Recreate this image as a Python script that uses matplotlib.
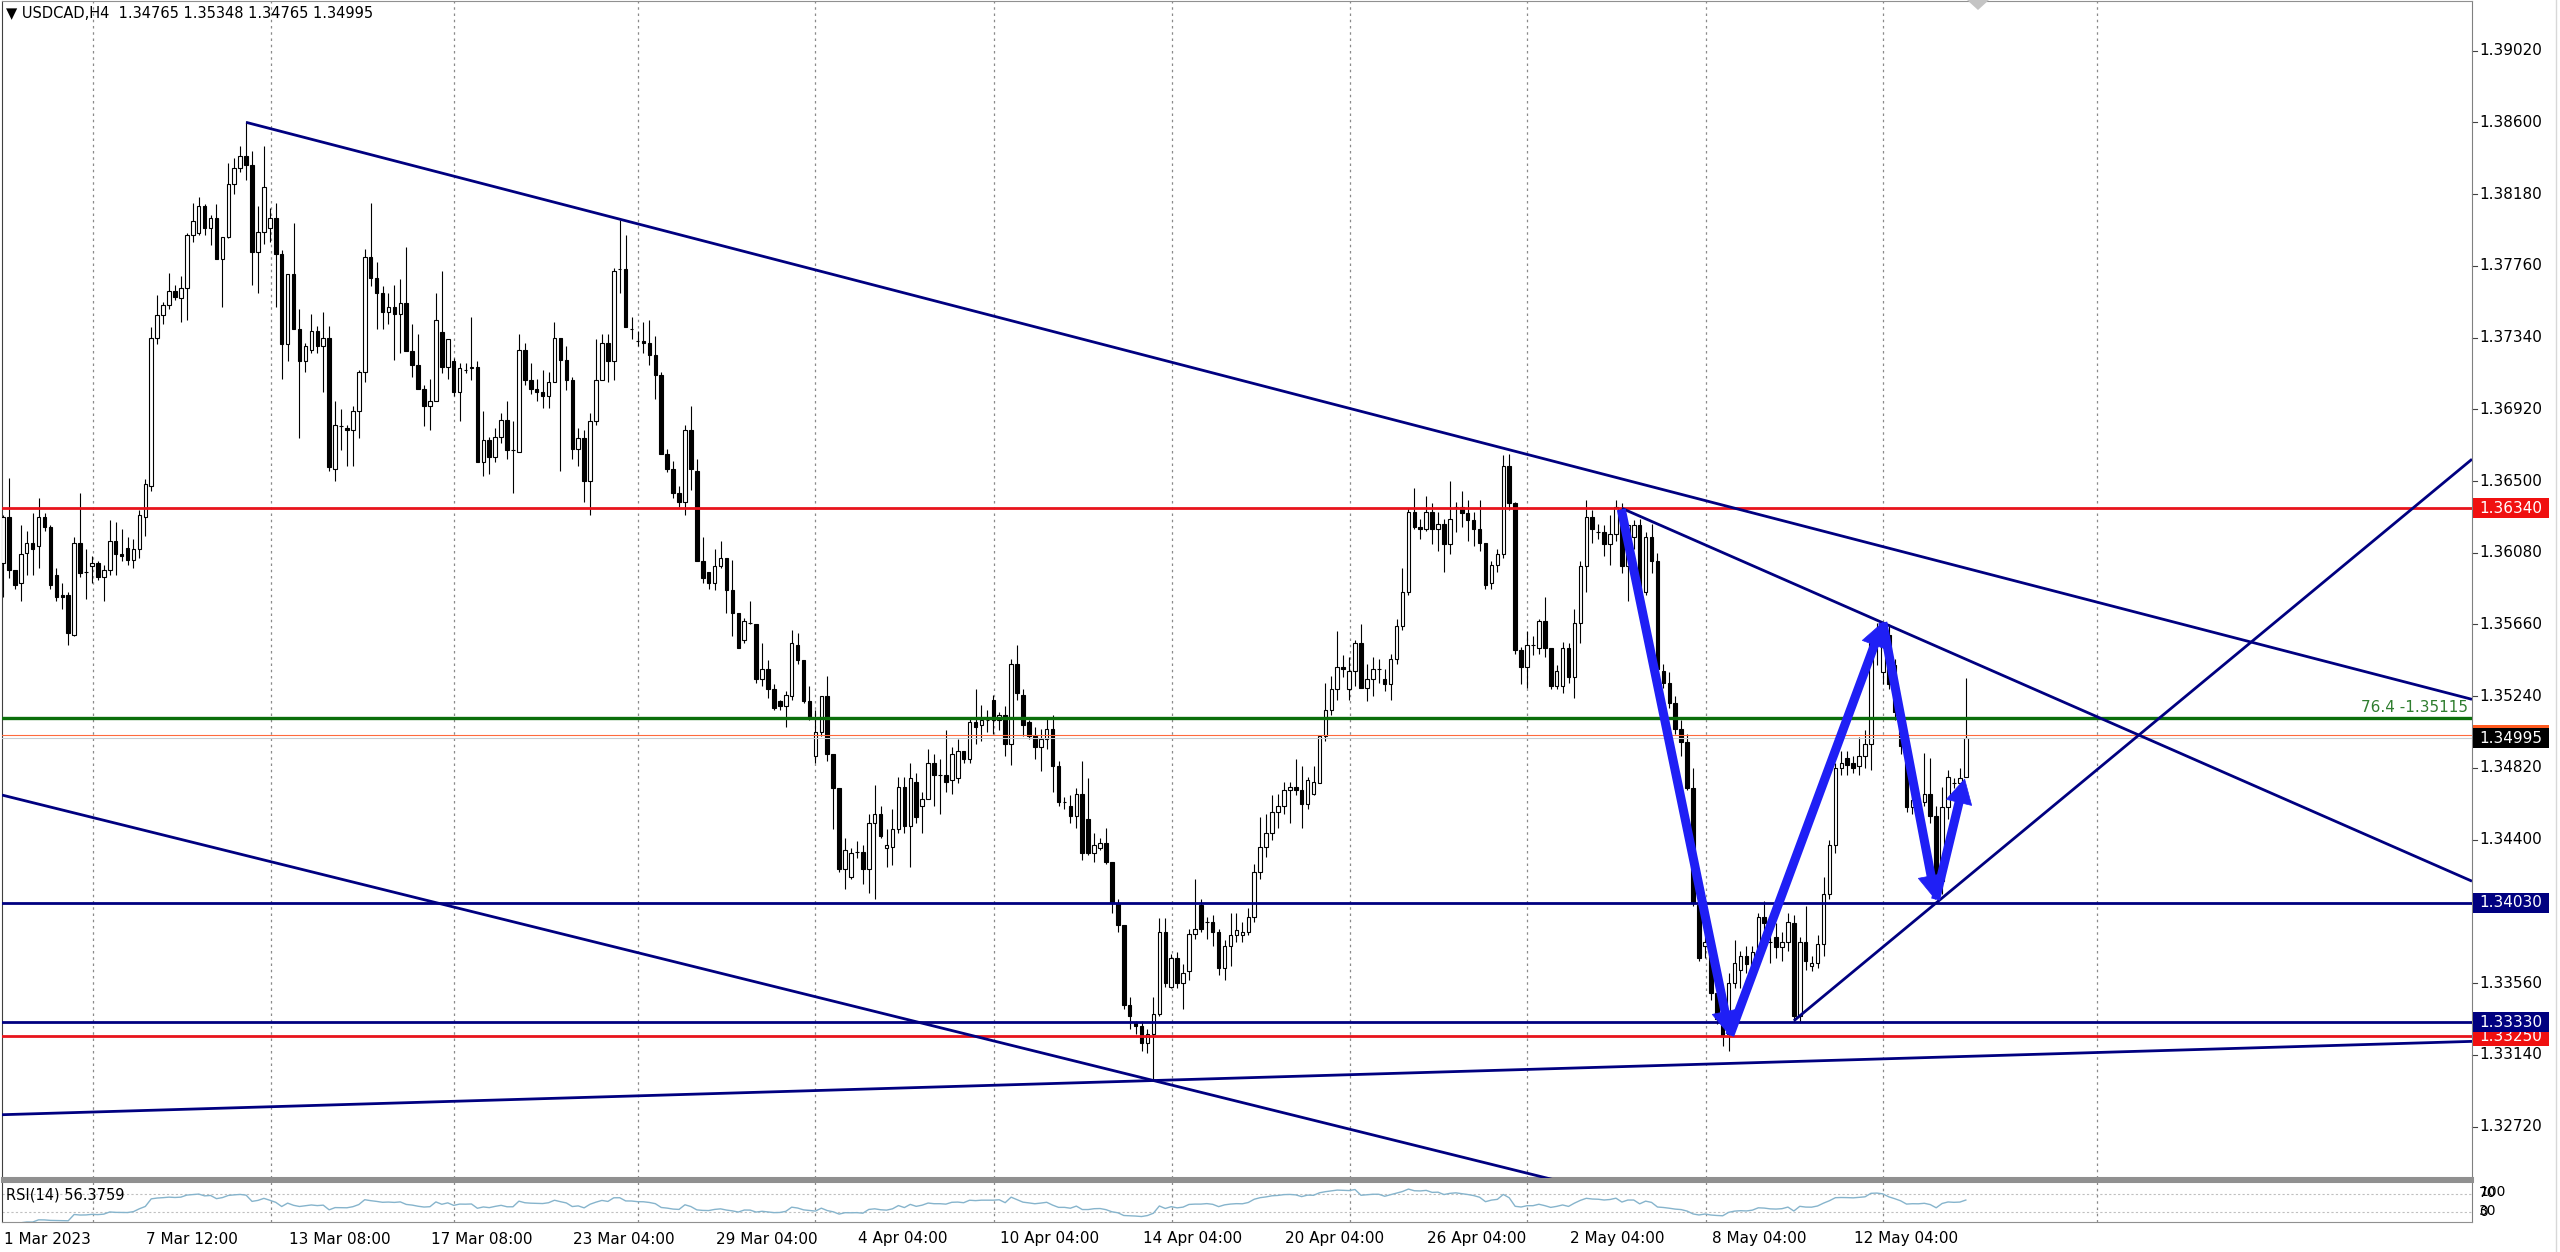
import numpy as np
import pandas as pd
import matplotlib
matplotlib.use("Agg")
import matplotlib.pyplot as plt
from matplotlib import transforms
from matplotlib.lines import Line2D
from matplotlib.patches import Rectangle, Polygon

# USDCAD H4 candles from 1 Mar 2023, prices in pips (13602 -> 1.3602)
opens = [13602, 13629, 13598, 13590, 13608, 13614, 13612, 13629, 13623, 13595, 13583, 13583, 13560, 13614, 13597, 13600,
         13602, 13594, 13598, 13615, 13607, 13611, 13604, 13610, 13629, 13647, 13734, 13747, 13753, 13761, 13757, 13763,
         13794, 13795, 13811, 13798, 13804, 13780, 13793, 13824, 13833, 13840, 13835, 13784, 13796, 13798, 13804, 13783,
         13730, 13771, 13739, 13720, 13727, 13738, 13729, 13734, 13657, 13682, 13681, 13680, 13691, 13714, 13781, 13769,
         13760, 13749, 13752, 13748, 13754, 13726, 13718, 13704, 13694, 13697, 13737, 13717, 13720, 13702, 13715, 13716,
         13717, 13661, 13674, 13664, 13676, 13686, 13668, 13667, 13727, 13709, 13704, 13702, 13700, 13708, 13734, 13721,
         13709, 13669, 13675, 13650, 13685, 13709, 13731, 13720, 13774, 13774, 13739, 13732, 13732, 13731, 13724, 13712,
         13666, 13657, 13643, 13638, 13680, 13656, 13603, 13597, 13590, 13600, 13605, 13586, 13573, 13557, 13567, 13566,
         13534, 13540, 13528, 13521, 13518, 13524, 13554, 13545, 13521, 13489, 13503, 13524, 13490, 13470, 13423, 13418,
         13433, 13433, 13423, 13450, 13455, 13435, 13436, 13446, 13471, 13448, 13474, 13460, 13464, 13485, 13478, 13478,
         13475, 13476, 13492, 13487, 13509, 13507, 13510, 13522, 13510, 13513, 13496, 13543, 13525, 13509, 13501, 13494,
         13499, 13505, 13483, 13462, 13460, 13454, 13467, 13452, 13432, 13435, 13438, 13427, 13403, 13390, 13343, 13333,
         13331, 13321, 13326, 13338, 13386, 13354, 13371, 13356, 13363, 13385, 13402, 13392, 13392, 13386, 13365, 13378,
         13384, 13384, 13386, 13395, 13421, 13436, 13444, 13456, 13460, 13469, 13471, 13469, 13461, 13467, 13473, 13501,
         13516, 13528, 13541, 13528, 13539, 13555, 13529, 13534, 13540, 13534, 13531, 13546, 13565, 13585, 13632, 13623,
         13622, 13632, 13622, 13625, 13613, 13635, 13635, 13631, 13627, 13622, 13614, 13590, 13601, 13607, 13659, 13637,
         13551, 13541, 13554, 13552, 13568, 13552, 13530, 13530, 13552, 13535, 13567, 13600, 13629, 13620, 13620, 13613,
         13619, 13634, 13600, 13617, 13624, 13585, 13617, 13603, 13539, 13532, 13520, 13505, 13497, 13470, 13402, 13378,
         13379, 13350, 13335, 13326, 13356, 13364, 13372, 13366, 13374, 13395, 13380, 13383, 13377, 13380, 13391, 13337,
         13380, 13366, 13368, 13379, 13408, 13437, 13482, 13488, 13485, 13483, 13489, 13496, 13555, 13538, 13560, 13542,
         13515, 13495, 13459, 13462, 13462, 13467, 13454, 13416, 13459, 13473, 13473, 13476.5]
highs = [13630, 13652, 13598, 13624, 13621, 13631, 13640, 13631, 13624, 13599, 13590, 13585, 13617, 13643, 13610, 13606,
         13603, 13601, 13627, 13626, 13622, 13617, 13616, 13633, 13651, 13740, 13759, 13755, 13772, 13765, 13770, 13795,
         13813, 13816, 13812, 13806, 13812, 13793, 13836, 13839, 13846, 13861, 13843, 13811, 13846, 13810, 13813, 13785,
         13771, 13801, 13751, 13731, 13748, 13741, 13749, 13741, 13697, 13692, 13683, 13694, 13715, 13786, 13813, 13778,
         13764, 13760, 13765, 13768, 13787, 13742, 13736, 13706, 13710, 13760, 13773, 13733, 13722, 13719, 13719, 13746,
         13720, 13691, 13676, 13681, 13690, 13697, 13685, 13736, 13731, 13719, 13710, 13715, 13714, 13743, 13734, 13729,
         13711, 13681, 13680, 13690, 13733, 13736, 13736, 13775, 13803, 13794, 13746, 13738, 13743, 13744, 13735, 13714,
         13669, 13662, 13647, 13683, 13694, 13663, 13617, 13597, 13610, 13615, 13605, 13604, 13573, 13570, 13580, 13566,
         13555, 13545, 13531, 13522, 13527, 13563, 13561, 13545, 13530, 13516, 13524, 13536, 13490, 13470, 13441, 13435,
         13439, 13437, 13455, 13472, 13460, 13446, 13458, 13477, 13477, 13485, 13479, 13468, 13493, 13490, 13487, 13504,
         13494, 13499, 13492, 13512, 13528, 13519, 13516, 13525, 13515, 13518, 13546, 13554, 13528, 13510, 13506, 13505,
         13512, 13513, 13486, 13465, 13466, 13470, 13486, 13476, 13444, 13441, 13447, 13427, 13405, 13390, 13348, 13334,
         13334, 13329, 13348, 13394, 13394, 13373, 13374, 13367, 13388, 13417, 13405, 13395, 13396, 13388, 13381, 13397,
         13397, 13392, 13400, 13426, 13453, 13455, 13466, 13467, 13474, 13474, 13487, 13483, 13477, 13483, 13501, 13532,
         13536, 13562, 13548, 13547, 13557, 13566, 13543, 13547, 13546, 13540, 13549, 13569, 13599, 13634, 13646, 13628,
         13641, 13637, 13632, 13628, 13650, 13638, 13644, 13639, 13632, 13639, 13614, 13603, 13610, 13665, 13666, 13638,
         13553, 13562, 13559, 13569, 13582, 13552, 13542, 13556, 13555, 13575, 13603, 13639, 13633, 13625, 13624, 13630,
         13639, 13637, 13625, 13627, 13628, 13620, 13625, 13608, 13543, 13538, 13524, 13510, 13502, 13482, 13403, 13391,
         13383, 13352, 13337, 13362, 13381, 13375, 13378, 13378, 13397, 13404, 13392, 13391, 13386, 13397, 13396, 13383,
         13401, 13372, 13384, 13418, 13440, 13485, 13492, 13492, 13489, 13500, 13504, 13559, 13567, 13563, 13566, 13546,
         13518, 13497, 13470, 13466, 13491, 13488, 13460, 13471, 13481, 13476, 13482, 13534.8]
lows = [13582, 13593, 13587, 13580, 13595, 13595, 13599, 13621, 13587, 13580, 13575, 13554, 13559, 13594, 13581, 13590,
        13592, 13580, 13595, 13595, 13603, 13601, 13599, 13605, 13618, 13644, 13730, 13742, 13751, 13756, 13743, 13744,
        13790, 13794, 13794, 13788, 13780, 13752, 13792, 13818, 13831, 13826, 13765, 13760, 13789, 13790, 13752, 13710,
        13720, 13739, 13675, 13714, 13725, 13725, 13702, 13656, 13650, 13668, 13659, 13659, 13675, 13708, 13764, 13739,
        13739, 13742, 13721, 13725, 13726, 13711, 13704, 13682, 13680, 13697, 13713, 13710, 13700, 13685, 13713, 13709,
        13661, 13653, 13654, 13661, 13672, 13663, 13643, 13667, 13706, 13701, 13697, 13693, 13693, 13708, 13656, 13703,
        13663, 13659, 13638, 13630, 13683, 13709, 13708, 13709, 13760, 13740, 13733, 13729, 13725, 13718, 13698, 13666,
        13655, 13640, 13635, 13630, 13645, 13603, 13590, 13587, 13586, 13599, 13573, 13559, 13552, 13555, 13566, 13532,
        13530, 13523, 13516, 13516, 13506, 13522, 13543, 13520, 13510, 13485, 13501, 13486, 13446, 13421, 13411, 13417,
        13429, 13414, 13409, 13405, 13441, 13424, 13425, 13444, 13444, 13424, 13450, 13444, 13464, 13460, 13455, 13468,
        13467, 13473, 13485, 13485, 13496, 13498, 13503, 13502, 13504, 13489, 13484, 13522, 13501, 13499, 13487, 13480,
        13493, 13468, 13460, 13458, 13450, 13447, 13428, 13431, 13427, 13434, 13426, 13397, 13386, 13341, 13329, 13326,
        13316, 13315, 13299, 13337, 13354, 13353, 13353, 13341, 13358, 13382, 13386, 13382, 13378, 13361, 13358, 13366,
        13380, 13380, 13384, 13392, 13417, 13430, 13440, 13447, 13455, 13450, 13466, 13447, 13458, 13466, 13473, 13498,
        13513, 13522, 13535, 13522, 13530, 13529, 13521, 13524, 13532, 13527, 13522, 13543, 13563, 13583, 13622, 13616,
        13621, 13613, 13609, 13597, 13607, 13620, 13623, 13615, 13612, 13609, 13587, 13587, 13597, 13605, 13633, 13549,
        13531, 13529, 13548, 13549, 13547, 13528, 13528, 13526, 13532, 13523, 13555, 13585, 13614, 13616, 13606, 13601,
        13615, 13596, 13580, 13610, 13581, 13583, 13596, 13538, 13529, 13517, 13502, 13489, 13469, 13401, 13369, 13371,
        13346, 13332, 13319, 13316, 13353, 13353, 13362, 13360, 13368, 13378, 13368, 13371, 13369, 13375, 13333, 13333,
        13364, 13363, 13365, 13372, 13405, 13432, 13478, 13478, 13479, 13478, 13482, 13481, 13542, 13531, 13528, 13510,
        13490, 13456, 13455, 13458, 13460, 13450, 13408, 13408, 13452, 13470, 13470, 13476.5]
closes = [13629, 13598, 13589, 13607, 13614, 13610, 13629, 13623, 13589, 13582, 13582, 13561, 13614, 13596, 13597, 13602,
          13594, 13598, 13615, 13607, 13606, 13604, 13610, 13630, 13648, 13734, 13747, 13753, 13761, 13758, 13763, 13794,
          13802, 13811, 13798, 13804, 13780, 13793, 13824, 13833, 13840, 13835, 13784, 13796, 13822, 13804, 13783, 13730,
          13771, 13739, 13720, 13729, 13738, 13729, 13734, 13658, 13683, 13682, 13680, 13691, 13714, 13781, 13769, 13760,
          13749, 13752, 13748, 13754, 13726, 13718, 13704, 13694, 13697, 13744, 13717, 13733, 13702, 13716, 13715, 13717,
          13661, 13674, 13664, 13676, 13686, 13668, 13668, 13727, 13709, 13704, 13702, 13700, 13708, 13734, 13721, 13709,
          13669, 13675, 13650, 13685, 13709, 13731, 13720, 13773, 13774, 13740, 13739, 13732, 13731, 13724, 13712, 13666,
          13657, 13643, 13638, 13680, 13657, 13603, 13593, 13590, 13600, 13605, 13586, 13573, 13552, 13568, 13567, 13534,
          13540, 13528, 13517, 13518, 13525, 13555, 13545, 13521, 13512, 13503, 13524, 13490, 13470, 13423, 13434, 13432,
          13433, 13423, 13450, 13455, 13442, 13437, 13446, 13471, 13448, 13476, 13453, 13464, 13485, 13478, 13478, 13474,
          13490, 13492, 13487, 13509, 13506, 13510, 13510, 13510, 13513, 13496, 13543, 13526, 13507, 13501, 13494, 13499,
          13505, 13483, 13462, 13462, 13454, 13467, 13432, 13432, 13437, 13438, 13427, 13403, 13390, 13343, 13337, 13331,
          13321, 13326, 13338, 13386, 13356, 13371, 13356, 13362, 13385, 13388, 13388, 13392, 13386, 13365, 13378, 13384,
          13387, 13386, 13395, 13421, 13436, 13444, 13456, 13460, 13469, 13471, 13469, 13461, 13475, 13474, 13501, 13516,
          13528, 13541, 13540, 13539, 13555, 13529, 13534, 13540, 13540, 13531, 13546, 13565, 13585, 13632, 13623, 13622,
          13632, 13622, 13625, 13613, 13628, 13635, 13631, 13627, 13622, 13614, 13589, 13601, 13607, 13659, 13637, 13551,
          13541, 13554, 13554, 13568, 13552, 13530, 13539, 13552, 13535, 13567, 13600, 13629, 13622, 13620, 13613, 13619,
          13635, 13600, 13624, 13624, 13585, 13617, 13603, 13540, 13532, 13520, 13505, 13497, 13470, 13403, 13371, 13380,
          13350, 13335, 13325, 13356, 13368, 13372, 13367, 13374, 13395, 13391, 13380, 13377, 13380, 13392, 13337, 13380,
          13369, 13368, 13379, 13408, 13437, 13482, 13485, 13484, 13482, 13489, 13496, 13555, 13560, 13554, 13531, 13515,
          13495, 13459, 13463, 13462, 13467, 13454, 13416, 13459, 13477, 13473, 13476, 13499.5]

date_labels = ["1 Mar 2023", "7 Mar 12:00", "13 Mar 08:00", "17 Mar 08:00", "23 Mar 04:00", "29 Mar 04:00",
               "4 Apr 04:00", "10 Apr 04:00", "14 Apr 04:00", "20 Apr 04:00", "26 Apr 04:00", "2 May 04:00",
               "8 May 04:00", "12 May 04:00"]
date_bars = [0, 24, 48, 72, 96, 120, 144, 168, 192, 216, 240, 264, 288, 312]
grid_bars = [15.1, 45.2, 76.1, 107.1, 137.0, 167.1, 197.1, 227.1, 257.0, 287.1, 317.1, 353.1]
price_ticks = [1.39020, 1.38600, 1.38180, 1.37760, 1.37340, 1.36920, 1.36500, 1.36080, 1.35660,
               1.35240, 1.34820, 1.34400, 1.33560, 1.33140, 1.32720]

# horizontal levels (price, colour, width)
levels = [(1.36340, "#e8141c", 2.0), (1.35115, "#0b6e0b", 2.4), (1.34030, "#000080", 2.0),
          (1.33330, "#000080", 2.0), (1.33250, "#e8141c", 2.0)]
bid, ask = 1.34995, 1.35013
# price boxes on the right scale, drawn in this order
boxes = [(1.36340, "1.36340", "#f01010"), (ask, "", "#ff5a1f"), (bid, "1.34995", "#000000"),
         (1.34030, "1.34030", "#000080"), (1.33250, "1.33250", "#f01010"), (1.33330, "1.33330", "#000080")]
# trend lines: two anchors (bar, price); None = starts before the first bar
trend_lines = [(41, 1.38600, 104, 1.38033), (273, 1.36340, 317, 1.35670), (None, 1.34660, 194, 1.32990),
               (None, 1.32790, 194, 1.32990), (302, 1.33340, 326, 1.34030)]
zigzag_bars = [272.9, 291.2, 317.0, 325.9, 330.8]
zigzag_prices = [1.36334, 1.33255, 1.35672, 1.34050, 1.34755]

W, H = 2560, 1252
X0, X1 = 2, 2472
Y_TOP, Y_BOT = 1, 1178
BAR_PX, BAR0 = 5.93, 3.0
PX_PER_PRICE, P_REF, Y_REF = 17080.0, 1.3902, 50.6

o = np.array(opens) / 1e4
h = np.array(highs) / 1e4
l = np.array(lows) / 1e4
c = np.array(closes) / 1e4
x = np.arange(len(c))

plt.rcParams["font.family"] = ["DejaVu Sans"]
fig = plt.figure(figsize=(W / 100, H / 100), dpi=100)
fig.patch.set_facecolor("white")
ax = fig.add_axes([X0 / W, 1 - Y_BOT / H, (X1 - X0) / W, (Y_BOT - Y_TOP) / H])
rx = fig.add_axes([X0 / W, 1 - 1222 / H, (X1 - X0) / W, (1222 - 1181) / H])

xl = ((X0 - BAR0) / BAR_PX, (X1 - BAR0) / BAR_PX)
ax.set_xlim(xl)
ax.set_ylim(P_REF - (Y_BOT - Y_REF) / PX_PER_PRICE, P_REF + (Y_REF - Y_TOP) / PX_PER_PRICE)
rx.set_xlim(xl)
rx.set_ylim(6.3, 100.6)
for a in (ax, rx):
    a.set_xticks([])
    a.set_yticks([])
    a.set_facecolor("white")
    a.spines["left"].set_color("#404040")
    a.spines["right"].set_color("#808080")
    a.spines["top"].set_color("#909090")
    a.spines["bottom"].set_color("#909090")
ax.spines["bottom"].set_linewidth(2.2)
rx.spines["top"].set_linewidth(2.2)

for g in grid_bars:
    ax.axvline(g, color="#8a8a8a", lw=0.9, ls=(0, (2, 3)), zorder=1)
    rx.axvline(g, color="#8a8a8a", lw=0.9, ls=(0, (2, 3)), zorder=1)

# candles
up = c >= o
ax.vlines(x, l, h, color="black", lw=0.8, zorder=2)
ax.bar(x, np.abs(c - o), bottom=np.minimum(o, c), width=0.6,
       color=np.where(up, "white", "black"), edgecolor="black", linewidth=0.8, zorder=3)

# levels
for p, col, lw in levels:
    ax.axhline(p, color=col, lw=lw, zorder=4)
ax.axhline(ask, color="#ff6a3d", lw=0.8, zorder=4)
ax.axhline(bid, color="#c8ccd2", lw=0.8, zorder=4)

# trend lines, extended to the right edge
for x1, y1, x2, y2 in trend_lines:
    if x1 is None:
        slope = (y2 - y1) / x2
        xs = np.array([xl[0], xl[1]])
        ys = y1 + slope * xs
    else:
        slope = (y2 - y1) / (x2 - x1)
        xs = np.array([x1, xl[1]])
        ys = y1 + slope * (xs - x1)
    ax.plot(xs, ys, color="#000080", lw=2.0, zorder=4, solid_capstyle="butt")

# zigzag arrows
fig.canvas.draw()
pts = ax.transData.transform(np.column_stack([zigzag_bars, zigzag_prices]))
blue = "#1f1ff5"
for k in range(len(pts) - 1):
    p0, p1 = pts[k], pts[k + 1]
    d = p1 - p0
    u = d / np.hypot(*d)
    n = np.array([-u[1], u[0]])
    base = p1 - u * 24
    ax.add_line(Line2D([p0[0], base[0] + u[0] * 2], [p0[1], base[1] + u[1] * 2], transform=None,
                       color=blue, lw=6.5, solid_capstyle="butt", zorder=6))
    ax.add_patch(Polygon([p1, base + n * 13, base - n * 13], closed=True, transform=None,
                         facecolor=blue, edgecolor=blue, lw=0.5, zorder=6))

# right price scale
blend = transforms.blended_transform_factory(fig.transFigure, ax.transData)
for p in price_ticks:
    ax.plot([X1 / W, (X1 + 5) / W], [p, p], transform=blend, color="#404040", lw=0.8, clip_on=False)
    ax.text((X1 + 7) / W, p, f"{p:.5f}", transform=blend, fontsize=11, va="center", ha="left", clip_on=False)
z = 7
hb = 10 / PX_PER_PRICE
for p, txt, col in boxes:
    ax.add_patch(Rectangle(((X1 + 1) / W, p - hb), 76 / W, 2 * hb, transform=blend, facecolor=col,
                           edgecolor="none", clip_on=False, zorder=z))
    if txt:
        ax.text((X1 + 7) / W, p, txt, transform=blend, fontsize=11, color="white", va="center", ha="left",
                clip_on=False, zorder=z + 0.5)
    z += 1
ax.text((X1 - 4) / W, 1.35115 + 3 / PX_PER_PRICE, "76.4 -1.35115", transform=blend, fontsize=11,
        color="#2f7d2f", ha="right", va="bottom", clip_on=False, zorder=5)

# RSI(14)
cs = pd.Series(c)
dlt = cs.diff()
gain = dlt.clip(lower=0).ewm(alpha=1 / 14, adjust=False).mean()
loss = (-dlt.clip(upper=0)).ewm(alpha=1 / 14, adjust=False).mean()
rsi = 100 - 100 / (1 + gain / loss)
rx.axhline(70, color="#c0c0c0", lw=0.8, ls=(0, (2, 2)))
rx.axhline(30, color="#c0c0c0", lw=0.8, ls=(0, (2, 2)))
rx.plot(x, rsi, color="#86b4cc", lw=1.0)
fig.text(6 / W, 1 - 1195 / H, "RSI(14) 56.3759", fontsize=10.5, va="center", ha="left")
# MT4 draws these scale labels on top of each other in the small panel
for txt, yy in [("100", 1192), ("70", 1193), ("30", 1211), ("0", 1212)]:
    fig.text((X1 + 7) / W, 1 - yy / H, txt, fontsize=10, va="center", ha="left")

# time axis
for b, txt in zip(date_bars, date_labels):
    fig.text((BAR0 + BAR_PX * b + 1) / W, 1 - 1239 / H, txt, fontsize=11, va="center", ha="left")

fig.text(6 / W, 1 - 13 / H, "\u25bc USDCAD,H4  1.34765 1.35348 1.34765 1.34995", fontsize=10.5,
         va="center", ha="left")
fig.add_artist(Polygon([(1967 / W, 1.0), (1989 / W, 1.0), (1978 / W, 1 - 10 / H)], closed=True,
                       transform=fig.transFigure, facecolor="#c4c4c4", edgecolor="none"))
fig.add_artist(Line2D([2556 / W, 2556 / W], [0, 1], transform=fig.transFigure, color="#d8d8d8", lw=1))

fig.savefig("out.png", dpi=100, facecolor="white")
